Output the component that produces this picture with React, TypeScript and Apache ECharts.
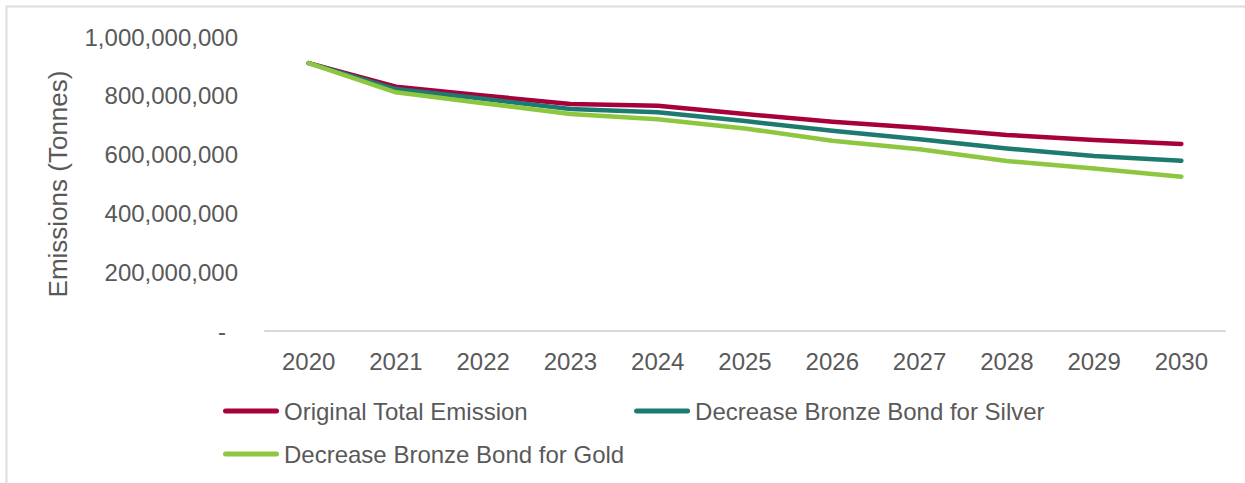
import React, { useEffect, useRef } from "react";
import * as echarts from "echarts";

const years = ["2020", "2021", "2022", "2023", "2024", "2025", "2026", "2027", "2028", "2029", "2030"];
const originalTotal = [911e6, 831e6, 801e6, 772e6, 766e6, 738e6, 712e6, 691e6, 667e6, 650e6, 636e6];
const bronzeForSilver = [911e6, 823e6, 790e6, 755e6, 744e6, 714e6, 681e6, 652e6, 621e6, 595e6, 579e6];
const bronzeForGold = [911e6, 812e6, 775e6, 738e6, 720e6, 689e6, 647e6, 618e6, 578e6, 553e6, 525e6];
const seriesNames = ["Original Total Emission", "Decrease Bronze Bond for Silver", "Decrease Bronze Bond for Gold"];
const seriesColors = ["#A6013B", "#1D7A70", "#8DC63F"];

const FONT = "'Liberation Sans', Arial, sans-serif";
const TEXT = "#595959";
const FS = 24;
const capsule = "path://M2.5,0 H53.5 A2.5,2.5 0 0 1 53.5,5 H2.5 A2.5,2.5 0 0 1 2.5,0 Z";

export default function App() {
  const ref = useRef<HTMLDivElement>(null);
  useEffect(() => {
    if (!ref.current) return;
    const chart = echarts.init(ref.current, undefined, { renderer: "svg" });
    const data = [originalTotal, bronzeForSilver, bronzeForGold];
    const legendCommon = {
      left: 223,
      padding: 0,
      orient: "horizontal",
      itemWidth: 56,
      itemHeight: 5,
      icon: capsule,
      itemGap: 106,
      textStyle: { fontSize: FS, color: TEXT, fontFamily: FONT },
    };
    chart.setOption({
      animation: false,
      textStyle: { fontFamily: FONT },
      graphic: [
        {
          type: "rect",
          silent: true,
          z: -1,
          shape: { x: 6.5, y: 6.5, width: 1400, height: 700 },
          style: { fill: "none", stroke: "#dcdcdc", lineWidth: 2 },
        },
      ],
      grid: { left: 265, right: 20, top: 37, bottom: 152, containLabel: false },
      legend: [
        { ...legendCommon, top: 399, data: [seriesNames[0], seriesNames[1]] },
        { ...legendCommon, top: 442, data: [seriesNames[2]] },
      ],
      xAxis: {
        type: "category",
        data: years,
        boundaryGap: true,
        axisLine: { show: true, lineStyle: { color: "#d9d9d9", width: 2 } },
        axisTick: { show: false },
        axisLabel: { fontSize: FS, color: TEXT, fontFamily: FONT, margin: 18 },
        splitLine: { show: false },
      },
      yAxis: {
        type: "value",
        min: 0,
        max: 1000000000,
        interval: 200000000,
        name: "Emissions (Tonnes)",
        nameLocation: "middle",
        nameGap: 194,
        nameTextStyle: { fontSize: 26, color: TEXT, fontFamily: FONT },
        axisLine: { show: false },
        axisTick: { show: false },
        splitLine: { show: false },
        axisLabel: {
          fontSize: FS,
          color: TEXT,
          fontFamily: FONT,
          margin: 27,
          formatter: (v: number) => (v === 0 ? "{d|-}" : v.toLocaleString("en-US")),
          rich: { d: { fontSize: FS, color: TEXT, fontFamily: FONT, padding: [0, 12, 0, 0] } },
        },
      },
      series: seriesNames.map((name, i) => ({
        name,
        type: "line",
        data: data[i],
        showSymbol: false,
        symbol: "none",
        color: seriesColors[i],
        lineStyle: { width: 4.5, color: seriesColors[i], cap: "round", join: "round" },
        itemStyle: { color: seriesColors[i] },
        z: 2 + i,
      })),
    });
    return () => chart.dispose();
  }, []);
  return <div ref={ref} style={{ position: "absolute", left: 0, top: 0, width: 1245, height: 483 }} />;
}
